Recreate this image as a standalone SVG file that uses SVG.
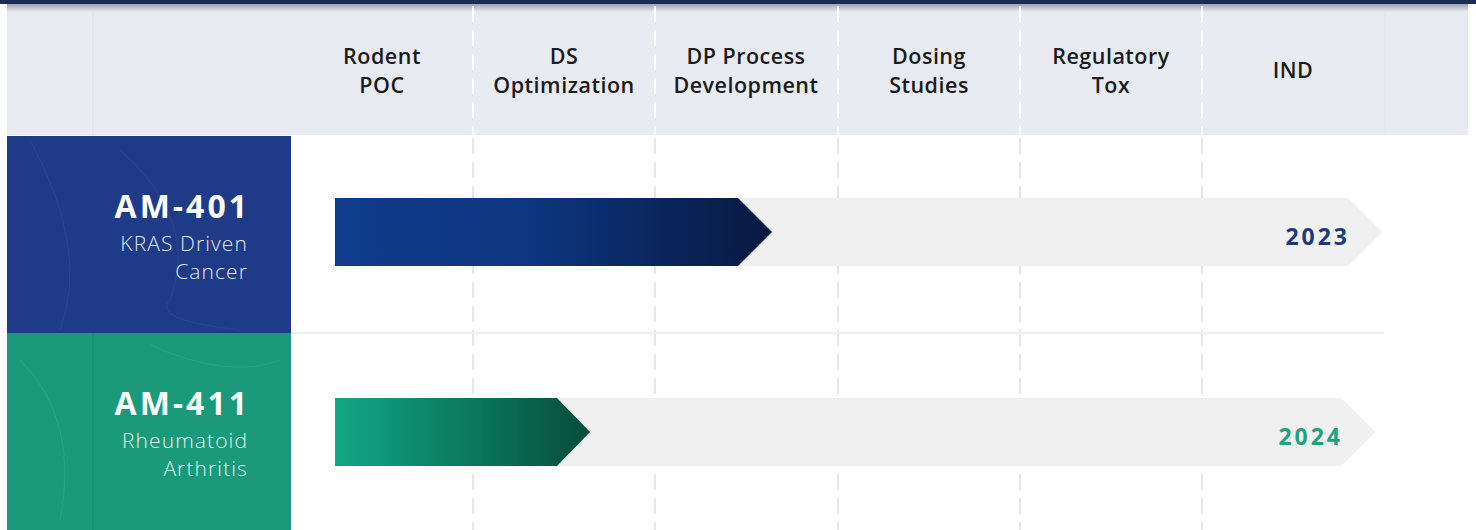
<svg xmlns="http://www.w3.org/2000/svg" width="1476" height="530" viewBox="0 0 1476 530">
<style>
.hdr{font-family:"Open Sans","Liberation Sans",sans-serif;font-size:21.5px;font-weight:600;letter-spacing:0.5px;fill:#1b1b1b;text-anchor:middle}
.name{font-family:"Open Sans","Liberation Sans",sans-serif;font-size:32px;font-weight:700;letter-spacing:3px;fill:#ffffff;text-anchor:end}
.sub{font-family:"Open Sans","Liberation Sans",sans-serif;font-size:21px;font-weight:300;letter-spacing:1.1px;fill:#dfe6f2;text-anchor:end}
.yr{font-family:"Open Sans","Liberation Sans",sans-serif;font-size:23px;font-weight:700;letter-spacing:3px;text-anchor:end}
.dw{stroke:#ffffff;stroke-width:2;stroke-dasharray:16 8;fill:none}
.dg{stroke:#e4e6ea;stroke-width:2;stroke-dasharray:16 8;fill:none}
.track{fill:#f0f0f1}
</style>
<defs>
<linearGradient id="gBlue" x1="0" x2="1" y1="0" y2="0">
<stop offset="0" stop-color="#0f3c8c"/>
<stop offset="0.45" stop-color="#0d367f"/>
<stop offset="1" stop-color="#08183f"/>
</linearGradient>
<linearGradient id="gGreen" x1="0" x2="1" y1="0" y2="0">
<stop offset="0" stop-color="#11a886"/>
<stop offset="1" stop-color="#074c3b"/>
</linearGradient>
<linearGradient id="shadow" x1="0" x2="0" y1="0" y2="1">
<stop offset="0" stop-color="#9aa3b5"/>
<stop offset="1" stop-color="#e9ebf2"/>
</linearGradient>
</defs>
<rect x="0" y="0" width="1476" height="530" fill="#ffffff"/>
<!-- header -->
<rect x="7" y="4" width="1461" height="131" fill="#e9ebf2"/>
<rect x="7" y="4" width="1461" height="8" fill="url(#shadow)"/>
<rect x="0" y="0" width="1476" height="4" fill="#1d2c52"/>
<line x1="93" y1="12" x2="93" y2="135" stroke="#dde0e8" stroke-width="1"/>
<line x1="1385" y1="12" x2="1385" y2="135" stroke="#e1e4ec" stroke-width="1"/>
<g id="grid">
<line class="dw" x1="473" y1="6" x2="473" y2="135"/>
<line class="dw" x1="655" y1="6" x2="655" y2="135"/>
<line class="dw" x1="838" y1="6" x2="838" y2="135"/>
<line class="dw" x1="1020" y1="6" x2="1020" y2="135"/>
<line class="dw" x1="1202" y1="6" x2="1202" y2="135"/>
<line class="dg" x1="473" y1="138" x2="473" y2="530"/>
<line class="dg" x1="655" y1="138" x2="655" y2="530"/>
<line class="dg" x1="838" y1="138" x2="838" y2="530"/>
<line class="dg" x1="1020" y1="138" x2="1020" y2="530"/>
<line class="dg" x1="1202" y1="138" x2="1202" y2="530"/>
<line x1="291" y1="333" x2="1384" y2="333" stroke="#eeeff2" stroke-width="2"/>
</g>
<g id="col-rodent"><text class="hdr" x="382" y="64">Rodent</text><text class="hdr" x="382" y="93">POC</text></g>
<g id="col-ds"><text class="hdr" x="564" y="64">DS</text><text class="hdr" x="564" y="93">Optimization</text></g>
<g id="col-dp"><text class="hdr" x="746" y="64">DP Process</text><text class="hdr" x="746" y="93">Development</text></g>
<g id="col-dosing"><text class="hdr" x="929" y="64">Dosing</text><text class="hdr" x="929" y="93">Studies</text></g>
<g id="col-regtox"><text class="hdr" x="1111" y="64">Regulatory</text><text class="hdr" x="1111" y="93">Tox</text></g>
<g id="col-ind"><text class="hdr" x="1293" y="78">IND</text></g>
<!-- AM-401 -->
<g id="am401-label">
<rect x="7" y="136" width="284" height="197" fill="#1f3a86"/>
<path d="M30 140 Q90 250 60 330 M120 150 Q200 220 170 300 Q150 320 240 330" stroke="#3551a0" stroke-width="1" fill="none" opacity="0.5"/>
<text class="name" x="250" y="218">AM-401</text>
<text class="sub" x="248" y="251">KRAS Driven</text>
<text class="sub" x="248" y="279">Cancer</text>
</g>
<g id="am401-track">
<polygon class="track" points="335,198 1348,198 1382,232 1348,266 335,266"/>
<polygon points="335,198 738,198 772,232 738,266 335,266" fill="url(#gBlue)"/>
<text class="yr" x="1350" y="245" fill="#1f3a7a">2023</text>
</g>
<!-- AM-411 -->
<g id="am411-label">
<rect x="7" y="333" width="284" height="197" fill="#1a9a7b"/>
<line x1="93" y1="333" x2="93" y2="530" stroke="#168a6e" stroke-width="1"/>
<path d="M20 360 Q80 420 60 520 M150 345 Q230 380 280 360" stroke="#3ab08f" stroke-width="1" fill="none" opacity="0.5"/>
<text class="name" x="250" y="415">AM-411</text>
<text class="sub" x="248" y="448" style="fill:#dff3ec">Rheumatoid</text>
<text class="sub" x="248" y="476" style="fill:#dff3ec">Arthritis</text>
</g>
<g id="am411-track">
<polygon class="track" points="335,398 1341,398 1375,432 1341,466 335,466"/>
<polygon points="335,398 557,398 590,432 557,466 335,466" fill="url(#gGreen)"/>
<text class="yr" x="1343" y="445" fill="#1fa37f">2024</text>
</g>
<g id="connectors"></g>
</svg>
